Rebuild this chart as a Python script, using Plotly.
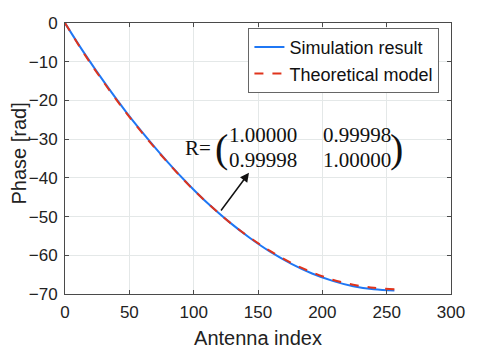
import plotly.graph_objects as go

# Values
antenna_index = [0, 16, 32, 48, 64, 80, 96, 112, 128, 144, 160, 176, 192, 208, 224, 240, 256]
phase_sim = [0.0, -8.3, -16.0, -23.2, -29.8, -36.0, -41.7, -46.9, -51.5, -55.6,
             -59.2, -62.2, -64.7, -66.6, -68.0, -68.8, -69.1]
phase_model = [0.0, -8.5, -16.2, -23.4, -30.0, -36.1, -41.8, -46.9, -51.5, -55.5,
               -59.0, -62.0, -64.4, -66.3, -67.6, -68.4, -68.8]

matrix_rows = [["1.00000", "0.99998"], ["0.99998", "1.00000"]]

BLUE = "#1f77f4"
RED = "#e0341c"
AXIS = "#4a4a4a"
SERIF = "Liberation Serif, Times New Roman, serif"

fig = go.Figure()
fig.add_trace(go.Scatter(x=antenna_index, y=phase_sim, mode="lines", name="Simulation result",
                         line=dict(color=BLUE, width=2, shape="spline")))
fig.add_trace(go.Scatter(x=antenna_index, y=phase_model, mode="lines", name="Theoretical model",
                         line=dict(color=RED, width=2, dash="dash", shape="spline")))

# correlation matrix annotation built from pieces
fig.add_annotation(x=103.3, y=-32.3, text="R=", showarrow=False,
                   font=dict(family=SERIF, size=21, color="#111"))
fig.add_annotation(x=122.0, y=-32.4, text="(", showarrow=False,
                   font=dict(family=SERIF, size=40, color="#111"))
fig.add_annotation(x=258.0, y=-32.4, text=")", showarrow=False,
                   font=dict(family=SERIF, size=40, color="#111"))
for r, row in enumerate(matrix_rows):
    for c, val in enumerate(row):
        fig.add_annotation(x=[153.8, 226.6][c], y=[-29.0, -35.4][r], text=val, showarrow=False,
                           font=dict(family=SERIF, size=21, color="#111"))
fig.add_annotation(x=143, y=-38.7, ax=120.4, ay=-48.8, axref="x", ayref="y", text="",
                   showarrow=True, arrowhead=2, arrowsize=1.2, arrowwidth=1.5, arrowcolor="#111")

# y title as an annotation so it can sit close to the tick labels
fig.add_annotation(xref="paper", yref="paper", x=-0.118, y=0.52, xanchor="center", yanchor="middle",
                   text="Phase [rad]", textangle=-90, showarrow=False,
                   font=dict(size=20, color="#222"))

# page body has an 8px margin, so the figure is shrunk by that amount
fig.update_layout(
    width=483, height=341,
    template="plotly_white",
    plot_bgcolor="white", paper_bgcolor="white",
    font=dict(family="Liberation Sans, Arial, sans-serif", color="#222", size=17),
    margin=dict(l=57, r=40, t=15, b=55),
    legend=dict(x=0.97, y=0.982, xanchor="right", yanchor="top",
                bgcolor="white", bordercolor="#666", borderwidth=1,
                font=dict(size=18, color="#111"), tracegroupgap=0, itemwidth=30),
)
fig.update_xaxes(range=[0, 300], dtick=50, showgrid=True, gridcolor="#e4e8e8", automargin=False,
                 showline=True, linecolor=AXIS, mirror="ticks", ticks="inside", ticklen=4,
                 tickcolor=AXIS, zeroline=False, ticklabelstandoff=3,
                 title=dict(text="Antenna index", font=dict(size=20), standoff=10))
fig.update_yaxes(range=[-70, 0], dtick=10, showgrid=True, gridcolor="#e4e8e8", automargin=False,
                 showline=True, linecolor=AXIS, mirror="ticks", ticks="inside", ticklen=4,
                 tickcolor=AXIS, zeroline=False, ticklabelstandoff=3)

fig.write_html("out.html")
